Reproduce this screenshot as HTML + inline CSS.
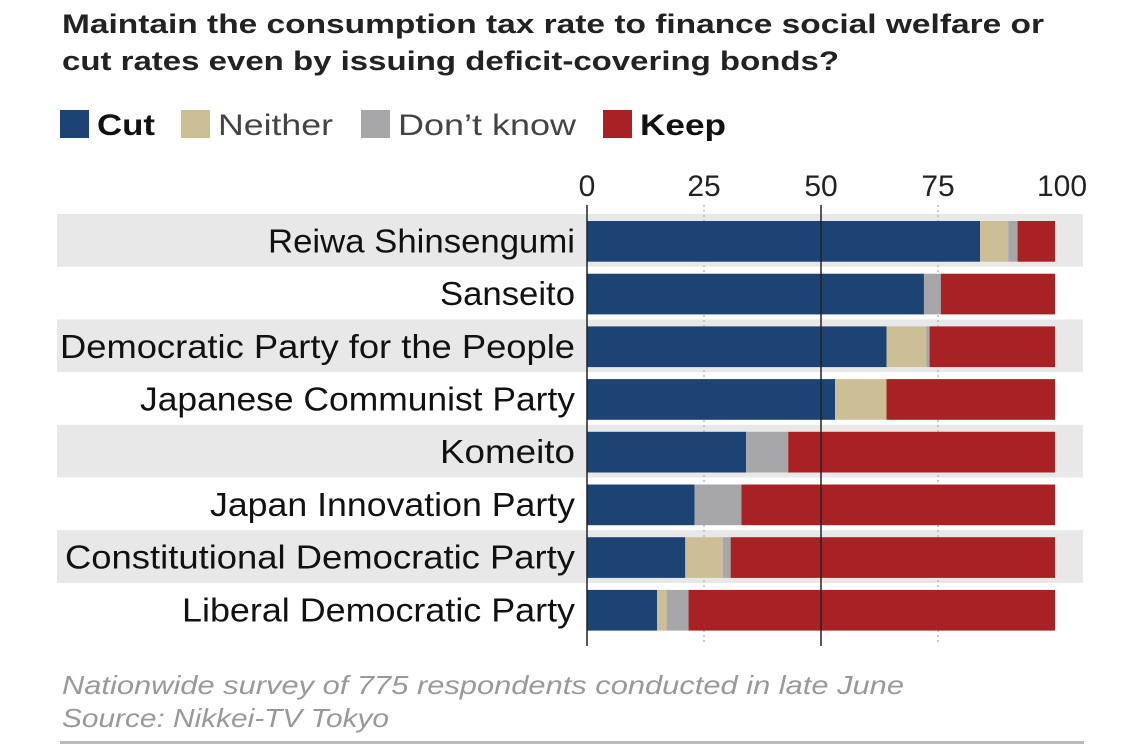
<!DOCTYPE html>
<html><head><meta charset="utf-8"><style>
html,body{margin:0;padding:0;background:#fff;}
svg{display:block;font-family:"Liberation Sans",sans-serif;}
</style></head><body>
<svg id="chart" width="1125" height="749" viewBox="0 0 1125 749" xmlns="http://www.w3.org/2000/svg">
<text x="62" y="33" font-size="27" font-weight="bold" fill="#222" textLength="982" lengthAdjust="spacingAndGlyphs">Maintain the consumption tax rate to finance social welfare or</text>
<text x="62" y="70" font-size="27" font-weight="bold" fill="#222" textLength="777" lengthAdjust="spacingAndGlyphs">cut rates even by issuing deficit-covering bonds?</text>
<g id="legend"></g>
<g id="bands"></g>
<g id="grid"></g>
<g id="bars"></g>
<g id="labels"></g>
<text x="62" y="694" font-size="26" font-style="italic" fill="#999" textLength="842" lengthAdjust="spacingAndGlyphs">Nationwide survey of 775 respondents conducted in late June</text>
<text x="62" y="727" font-size="26" font-style="italic" fill="#999" textLength="327" lengthAdjust="spacingAndGlyphs">Source: Nikkei-TV Tokyo</text>
<rect x="60" y="741" width="1024" height="3" fill="#bbb"/>
</svg>
<script>
const parties = ["Reiwa Shinsengumi","Sanseito","Democratic Party for the People","Japanese Communist Party","Komeito","Japan Innovation Party","Constitutional Democratic Party","Liberal Democratic Party"];
const cutVals = [84,72,64,53,34,23,21,15];
const neitherVals = [6,0,8.5,11,0,0,8,2];
const dontKnowVals = [2,3.6,0.7,0,9,10,1.7,4.7];
const keepVals = [8,24.4,26.8,36,57,67,69.3,78.3];
const ticks = [0,25,50,75,100];
const seriesNames = ["Cut","Neither","Don’t know","Keep"];

const NS="http://www.w3.org/2000/svg";
const colors=["#1c4373","#cdbf95","#a7a7a9","#a82125"];
const labelW=[307,135,515,435,135,365,510,393];
const x0=587,x1=1055;
const xs=v=>x0+(x1-x0)*v/100;
const rowTop=214,rowH=52.7;
const ys=i=>rowTop+i*rowH;
function mk(tag,attrs,parent){const e=document.createElementNS(NS,tag);for(const k in attrs)e.setAttribute(k,attrs[k]);parent.appendChild(e);return e;}

const lg=document.getElementById('legend');
const lx=[60,181,361,603],tl=[58,115,178,86];
seriesNames.forEach((n,i)=>{
  const r=mk('rect',{x:lx[i],y:110,width:29,height:28,fill:colors[i]},lg);
  
  
  const bold=(i==0||i==3);
  const t=mk('text',{x:lx[i]+37,y:135,'font-size':30,'font-weight':bold?'bold':'normal',fill:bold?'#111':'#444',textLength:tl[i],lengthAdjust:'spacingAndGlyphs'},lg);
  t.textContent=n;
  
  
});

const bg=document.getElementById('bands');
parties.forEach((p,i)=>{
  if(i%2==0){
    const r=mk('rect',{x:57,y:ys(i),width:1026,height:rowH,fill:'#e8e8e8'},bg);
    
    
  }
});

const g=document.getElementById('grid');
ticks.forEach(t=>{
  const x=xs(t);
  const lbl=mk('text',{x:x+(t==100?7:0),y:196,'font-size':30,'text-anchor':'middle',fill:'#222'},g);
  lbl.textContent=t;
  
  
  if(t==25||t==75){
    const l=mk('line',{x1:x,x2:x,y1:205,y2:645,stroke:'#bbb','stroke-width':1.5,'stroke-dasharray':'2,3'},g);
    
    
  }
});

const bb=document.getElementById('bars');
const series=[cutVals,neitherVals,dontKnowVals,keepVals];
parties.forEach((p,i)=>{
  let acc=0;
  series.forEach((s,k)=>{
    const v=s[i];
    if(v>0){
      const r=mk('rect',{x:xs(acc),y:ys(i)+7,width:xs(acc+v)-xs(acc),height:rowH-12,fill:colors[k]},bb);
      
      
    }
    acc+=v;
  });
  const t=mk('text',{x:575,y:ys(i)+rowH/2+12,'font-size':33,'text-anchor':'end',fill:'#111',textLength:labelW[i],lengthAdjust:'spacingAndGlyphs'},document.getElementById('labels'));
  t.textContent=p;
  
  
});
[0,50].forEach(t=>{
  const l=mk('line',{x1:xs(t),x2:xs(t),y1:205,y2:646,stroke:'#222','stroke-width':1.5},g.parentNode);
  
  
});
</script>
</body></html>
